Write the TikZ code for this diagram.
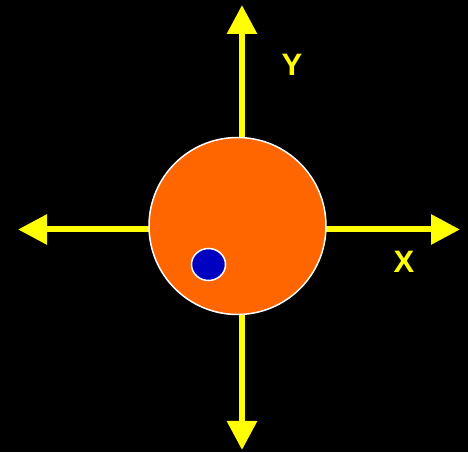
\documentclass[tikz,border=0pt]{standalone}
\usepackage{fontspec}
\setmainfont{Liberation Sans}
\usetikzlibrary{arrows.meta,shapes.geometric}
\definecolor{axisyellow}{RGB}{255,255,0}
\definecolor{ballorange}{RGB}{255,102,0}
\definecolor{dotblue}{RGB}{0,0,192}
\tikzset{
  axis/.style={draw=axisyellow,line width=6pt,{Triangle[width=29pt,length=29pt]}-{Triangle[width=29pt,length=29pt]}},
  axislabel/.style={text=axisyellow,font=\fontsize{31}{31}\selectfont\bfseries,inner sep=0pt},
}
\begin{document}
\begin{tikzpicture}[x=1pt,y=1pt]
\fill[black] (0,0) rectangle (468,452);
\useasboundingbox (0,0) rectangle (468,452);
\coordinate (left) at (18,222.5);
\coordinate (right) at (460,222.5);
\coordinate (top) at (242,447);
\coordinate (bottom) at (242,2);
\draw[axis] (left) -- (right);
\draw[axis] (bottom) -- (top);
\node[circle,draw=white,line width=1.5pt,fill=ballorange,minimum size=177pt,inner sep=0pt] (ball) at (237.5,226) {};
\node[ellipse,draw=white,line width=1.5pt,fill=dotblue,minimum width=34pt,minimum height=32pt,inner sep=0pt] (dot) at (208.5,187.5) {};
\node[axislabel] (ylab) at (292,387.5) {Y};
\node[axislabel] (xlab) at (404,190) {X};
\end{tikzpicture}
\end{document}
